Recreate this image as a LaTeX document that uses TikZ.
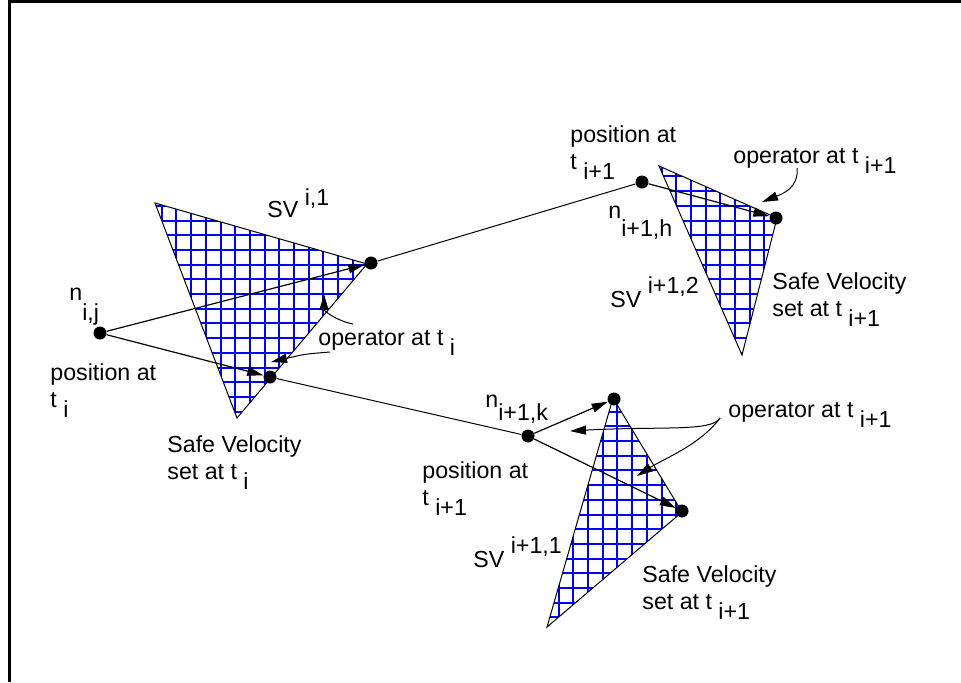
\documentclass[tikz,border=0pt]{standalone}
\usepackage{fontspec}
\setmainfont{Liberation Sans}
\usetikzlibrary{arrows.meta,positioning}
\definecolor{hatchBlue}{RGB}{0,0,255}
\newcommand{\lo}[2][5pt]{\raisebox{-#1}{#2}}
\newcommand{\hi}[2][6pt]{\raisebox{#1}{#2}}
\newcommand{\svset}[3]{%
  \begin{scope}
    \clip #1 -- #2 -- #3 -- cycle;
    \fill[white] #1 -- #2 -- #3 -- cycle;
    \draw[hatchBlue,line width=1pt,step=7.35pt] (0,682) grid (961,0);
  \end{scope}
  \draw[line width=.5pt] #1 -- #2 -- #3 -- cycle;}

\begin{document}
\begin{tikzpicture}[x=0.5pt,y=-0.5pt,
  every node/.style={font=\fontsize{11.6}{13.5}\selectfont,inner sep=0pt},
  posdot/.style={circle,fill=black,minimum size=6.5pt,inner sep=0pt},
  lbl/.style={anchor=base west,align=left},
  vel/.style={-{Triangle[length=8pt,width=4.5pt]},line width=.6pt},
  link/.style={line width=.5pt},
  op/.style={-{Triangle[length=8pt,width=4.5pt]},line width=.5pt}]
\useasboundingbox (0,0) rectangle (961,682);
\draw[line width=1.5pt] (9.5,682) |- (961,1.5);

\svset{(155,203)}{(367,264)}{(237,418)}
\svset{(659,166)}{(777,218)}{(742,355)}
\svset{(613,398)}{(682,512)}{(547,627)}

\node[posdot] (nij) at (100,333) {};
\node[posdot] (ai) at (371,263) {};
\node[posdot] (bi) at (270,377) {};
\node[posdot] (nh) at (642,182) {};
\node[posdot] (ah) at (776,218) {};
\node[posdot] (nk) at (528,436) {};
\node[posdot] (ak) at (614,399) {};
\node[posdot] (bk) at (682,511) {};

\draw[vel] (nij) -- (ai);
\draw[vel] (nij) -- (bi);
\draw[link] (ai) -- (nh);
\draw[link] (bi) -- (nk);
\draw[vel] (nh) -- (ah);
\draw[vel] (nk) -- (ak);
\draw[vel] (nk) -- (bk);

\node[lbl] (svi) at (267,217) {SV \hi{i,1}};
\node[lbl] (lnij) at (69,300) {n\lo[10pt]{i,j}};
\node[lbl] (posi) at (50,407) {position at\\t \lo{i}};
\node[lbl] (safei) at (167,479) {Safe Velocity\\set at t \lo{i}};
\node[lbl] (opi) at (318,345) {operator at t \lo{i}};

\node[lbl] (posh) at (570,169) {position at\\t \lo{i+1}};
\node[lbl] (lnh) at (608,218) {n\lo[9pt]{i+1,h}};
\node[lbl] (oph) at (733,163) {operator at t \lo{i+1}};
\node[lbl] (svh) at (610,307) {SV \hi[7pt]{i+1,2}};
\node[lbl] (safeh) at (772,316) {Safe Velocity\\set at t \lo{i+1}};

\node[lbl] (lnk) at (485,407) {n\lo[6.5pt]{i+1,k}};
\node[lbl] (opk) at (728,417) {operator at t \lo{i+1}};
\node[lbl] (posk) at (422,505) {position at\\t \lo{i+1}};
\node[lbl] (svk) at (473,567) {SV \hi[7pt]{i+1,1}};
\node[lbl] (safek) at (642,609) {Safe Velocity\\set at t \lo{i+1}};

\coordinate (opiA) at (353,324);
\coordinate (opiAt) at (324,294);
\coordinate (opiB) at (330,352);
\coordinate (opiBt) at (271,362);
\coordinate (ophA) at (797,168);
\coordinate (ophAt) at (762,202);
\coordinate (opkA) at (720,418);
\coordinate (opkAt) at (570,431);
\coordinate (opkBt) at (637,476);

\draw[op] (opiA) .. controls (334,320) and (324,310) .. (opiAt);
\draw[op] (opiB) .. controls (305,354) .. (opiBt);
\draw[op] (ophA) .. controls (799,188) and (782,194) .. (ophAt);
\draw[op] (opkA) .. controls (712,432) and (660,426) .. (opkAt);
\draw[op] (opkA) .. controls (700,445) and (665,458) .. (opkBt);
\end{tikzpicture}
\end{document}
